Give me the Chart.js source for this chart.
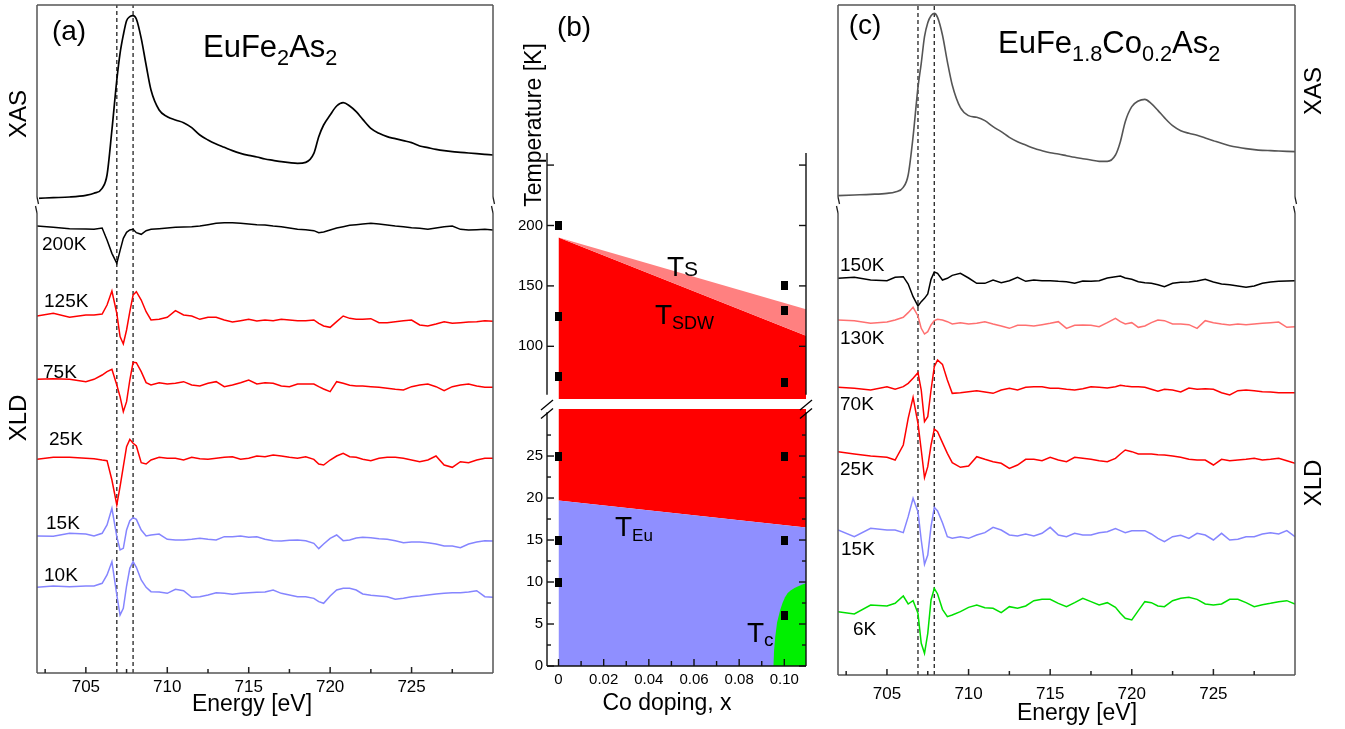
<!DOCTYPE html>
<html><head><meta charset="utf-8">
<script src="https://cdn.jsdelivr.net/npm/chart.js@4.4.1/dist/chart.umd.min.js"></script>
<style>
html,body{margin:0;padding:0;background:#fff;}
#wrap{position:relative;width:1345px;height:729px;overflow:hidden;font-family:"Liberation Sans",Arial,sans-serif;color:#000;}
canvas{position:absolute;left:0;top:0;}
.t{position:absolute;line-height:1;white-space:nowrap;transform:translate(-50%,-50%);}
.l{position:absolute;line-height:1;white-space:nowrap;transform:translateY(-50%);}
.r{position:absolute;line-height:1;white-space:nowrap;transform:translate(-50%,-50%) rotate(-90deg);}
.s{position:relative;top:0.35em;font-size:0.7em;}
.sb{position:relative;}
</style></head>
<body><div id="wrap">
<canvas id="ca" width="1345" height="729"></canvas>
<canvas id="cbu" width="1345" height="729"></canvas>
<canvas id="cbl" width="1345" height="729"></canvas>
<canvas id="cc" width="1345" height="729"></canvas>

<div class="t" style="left:69px;top:31px;font-size:28px">(a)</div>
<div class="l" style="left:203px;top:46px;font-size:31px">EuFe<span class="s">2</span>As<span class="s">2</span></div>
<div class="r" style="left:18px;top:114px;font-size:24px">XAS</div>
<div class="r" style="left:18px;top:418px;font-size:24px">XLD</div>
<div class="l" style="left:42px;top:243px;font-size:19px">200K</div>
<div class="l" style="left:44px;top:300px;font-size:19px">125K</div>
<div class="l" style="left:43px;top:371px;font-size:19px">75K</div>
<div class="l" style="left:49px;top:438px;font-size:19px">25K</div>
<div class="l" style="left:46px;top:522px;font-size:19px">15K</div>
<div class="l" style="left:44px;top:574px;font-size:19px">10K</div>
<div class="t" style="left:252px;top:703px;font-size:23px">Energy [eV]</div>

<div class="t" style="left:574px;top:27px;font-size:28px">(b)</div>
<div class="r" style="left:533px;top:125px;font-size:23px">Temperature [K]</div>
<div class="l" style="left:667px;top:267px;font-size:28px">T<span class="sb" style="font-size:21px;top:0px">S</span></div>
<div class="l" style="left:655px;top:315px;font-size:28px">T<span class="sb" style="font-size:18px;top:5px">SDW</span></div>
<div class="l" style="left:615px;top:527px;font-size:28px">T<span class="sb" style="font-size:17px;top:5px">Eu</span></div>
<div class="l" style="left:747px;top:633px;font-size:28px">T<span class="sb" style="font-size:19px;top:4px">c</span></div>
<div class="t" style="left:667px;top:702px;font-size:23px">Co doping, x</div>

<div class="t" style="left:865px;top:25px;font-size:28px">(c)</div>
<div class="l" style="left:998px;top:42px;font-size:31px">EuFe<span class="s">1.8</span>Co<span class="s">0.2</span>As<span class="s">2</span></div>
<div class="r" style="left:1313px;top:91px;font-size:24px">XAS</div>
<div class="r" style="left:1313px;top:483px;font-size:24px">XLD</div>
<div class="l" style="left:840px;top:264px;font-size:19px">150K</div>
<div class="l" style="left:840px;top:337px;font-size:19px">130K</div>
<div class="l" style="left:840px;top:403px;font-size:19px">70K</div>
<div class="l" style="left:840px;top:468px;font-size:19px">25K</div>
<div class="l" style="left:841px;top:548px;font-size:19px">15K</div>
<div class="l" style="left:853px;top:628px;font-size:19px">6K</div>
<div class="t" style="left:1077px;top:712px;font-size:23px">Energy [eV]</div>
</div>
<script>
// ---------- DATA ----------
const energyGrid = [702,703,704,705,705.5,706,706.3,706.6,706.9,707.1,707.3,707.5,707.7,707.9,708.1,708.4,708.7,709,709.5,710,710.5,711,711.5,712,712.5,713,713.5,714,714.5,715,715.5,716,716.5,717,717.5,718,718.5,719,719.3,719.6,720,720.4,720.8,721.2,721.6,722,722.5,723,723.5,724,724.5,725,725.5,726,726.5,727,727.5,728,728.5,729,729.5,730];
const energyTicks = [705,710,715,720,725];
const energyMinorTicks = [702.5,707.5,712.5,717.5,722.5,727.5];
const dashEnergies = [706.9, 707.9];

// panel (a) EuFe2As2 (arbitrary units, curves stacked)
const xasA = [1424,1426,1428,1433,1439,1454,1494,1629,1779,1859,1914,1957,1969,1972,1962,1904,1824,1749,1689,1669,1659,1651,1636,1614,1599,1587,1577,1567,1559,1553,1548,1542,1538,1534,1531,1529,1532,1559,1609,1644,1674,1701,1711,1701,1684,1661,1634,1619,1609,1603,1597,1591,1581,1576,1571,1567,1564,1562,1560,1558,1556,1554];
const xld200A = [1341,1337,1333,1332,1331,1335,1299,1259,1229,1267,1304,1322,1329,1331,1321,1316,1327,1331,1333,1335,1337,1338,1339,1341,1345,1349,1351,1351,1349,1347,1345,1344,1341,1339,1335,1331,1330,1327,1321,1323,1329,1335,1339,1343,1345,1347,1349,1347,1344,1341,1339,1336,1334,1331,1335,1339,1341,1331,1329,1330,1331,1329];
const xld125A = [1071,1079,1067,1074,1074,1077,1104,1146,1079,1009,987,1029,1084,1134,1144,1119,1084,1059,1061,1067,1087,1074,1071,1061,1067,1067,1059,1053,1057,1061,1056,1059,1057,1061,1059,1057,1057,1059,1049,1041,1037,1054,1071,1064,1061,1061,1063,1051,1051,1054,1057,1059,1044,1041,1047,1054,1049,1051,1053,1054,1057,1055];
const xld75A = [881,883,881,874,881,894,904,911,864,829,784,814,879,932,931,904,871,864,871,867,869,874,864,861,869,874,859,864,871,879,867,871,869,861,859,867,867,867,859,852,844,874,869,863,861,861,859,857,854,851,849,859,864,867,859,847,859,864,867,861,857,857];
const xld25A = [641,647,647,644,643,639,637,579,504,559,619,679,701,689,681,631,627,639,647,644,644,639,647,643,641,644,647,649,641,644,651,649,654,651,647,644,649,641,627,624,639,651,659,649,647,641,637,644,647,647,644,639,634,639,651,624,617,634,631,639,644,644];
const xld15A = [411,410,419,417,411,419,444,494,409,369,374,429,457,466,461,429,411,414,417,401,399,399,401,404,401,399,409,409,411,407,409,401,397,396,398,399,397,389,373,387,404,414,397,399,405,407,406,403,401,397,391,393,393,391,387,381,381,376,387,393,397,396];
const xld10A = [257,261,259,261,261,269,294,334,234,174,194,261,314,334,317,279,257,244,243,239,251,247,227,229,234,241,239,236,239,241,242,243,249,239,234,229,229,224,214,209,231,249,254,254,249,237,233,231,229,221,224,229,231,234,237,239,241,241,243,247,229,227];

// panel (c) EuFe1.8Co0.2As2
const xasC = [1438,1440,1442,1445,1449,1463,1500,1615,1763,1835,1915,1957,1978,1985,1973,1920,1840,1770,1702,1678,1673,1663,1645,1630,1613,1600,1590,1580,1573,1567,1563,1558,1553,1549,1545,1541,1541,1560,1600,1660,1705,1722,1727,1714,1694,1672,1648,1633,1625,1619,1611,1603,1595,1588,1583,1579,1576,1574,1573,1572,1571,1570];
const xld150C = [1190,1193,1185,1183,1193,1195,1173,1135,1107,1120,1130,1143,1187,1209,1205,1185,1190,1199,1205,1191,1175,1175,1185,1177,1183,1193,1181,1185,1183,1183,1181,1180,1175,1182,1181,1183,1191,1195,1197,1191,1187,1180,1177,1175,1171,1165,1175,1178,1179,1182,1187,1179,1173,1171,1167,1163,1167,1175,1179,1181,1182,1183];
const xld130C = [1065,1063,1055,1059,1065,1073,1087,1103,1077,1040,1023,1030,1050,1063,1067,1065,1060,1053,1057,1053,1055,1060,1053,1047,1040,1049,1049,1047,1051,1055,1060,1040,1049,1050,1049,1045,1057,1070,1060,1053,1057,1043,1047,1057,1065,1063,1053,1053,1051,1040,1063,1057,1053,1050,1053,1051,1053,1055,1057,1059,1043,1045];
const xld70C = [863,860,855,865,857,865,875,890,907,855,760,775,855,925,945,932,885,845,847,850,853,849,845,855,860,855,863,865,865,860,860,857,855,859,865,863,861,865,869,867,865,865,863,857,851,857,855,849,861,857,859,857,847,840,853,855,853,850,849,847,847,847];
const xld25C = [670,663,657,653,645,690,770,833,755,675,592,625,690,738,730,697,665,637,623,627,655,647,640,635,620,630,647,647,643,653,645,640,653,650,647,643,640,650,663,675,670,663,663,663,661,660,657,653,647,645,645,630,647,643,645,647,650,645,647,650,643,635];
const xld15C = [435,415,440,435,435,427,475,530,490,405,332,360,445,503,492,457,415,410,415,410,420,427,443,435,420,417,423,417,425,443,420,415,425,420,420,427,430,439,433,427,433,433,433,423,410,400,415,419,410,425,420,405,425,405,407,415,415,423,427,423,433,415];
const xld6C = [190,183,210,207,215,237,213,223,185,95,65,125,225,260,243,197,175,180,190,203,210,202,200,187,205,200,207,223,227,227,215,205,217,230,220,210,217,203,185,170,165,193,220,217,207,205,223,230,233,227,213,210,213,227,227,217,205,211,215,220,223,213];

// panel (b) phase diagram
const dopingEnds = [0, 0.1096];
const tSDW = [190, 108.8];
const tS = [190, 130.6];
const tEu = [19.7, 16.5];
const tcDoping = [0.0951,0.0955,0.0960,0.0968,0.0981,0.0992,0.1003,0.1015,0.1028,0.1045,0.1062,0.1080,0.1096];
const tcTemp = [0,2,3.5,5.2,6.6,7.5,8.2,8.7,9.0,9.3,9.5,9.7,9.85];
const measDoping = [0,0,0,0,0,0,0.1,0.1,0.1,0.1,0.1,0.1];
const measTemp = [200,125,75,25,15,10,150,130,70,25,15,6];
const upperTempTicks = [100,150,200,250];
const lowerTempTicks = [0,5,10,15,20,25];
const lowerTempMinor = [2.5,7.5,12.5,17.5,22.5,27.5];
const dopingTicks = [0,0.02,0.04,0.06,0.08,0.10];
const dopingMinor = [0.01,0.03,0.05,0.07,0.09];

// ---------- HELPERS ----------
Chart.defaults.font.family = "'Liberation Sans', Arial, sans-serif";
Chart.defaults.color = '#000';

function series(xs, ys){ return xs.map((x,i)=>({x:x, y:ys[i]})); }
function curve(ys, color, w){ return {data: series(energyGrid, ys), borderColor: color, borderWidth: w, pointRadius: 0, showLine: true, fill: false, tension: 0}; }
function dashes(yMax){ return dashEnergies.map(e => ({data:[{x:e,y:0},{x:e,y:yMax}], borderColor:'#333', borderWidth:1.4, borderDash:[4,3], pointRadius:0, showLine:true, fill:false})); }

const framePlugin = {
  id: 'frame',
  afterDraw(chart, args, o) {
    const ctx = chart.ctx, a = chart.chartArea, ys = chart.scales.y;
    ctx.save();
    ctx.strokeStyle = o.color; ctx.lineWidth = o.width; ctx.lineCap = 'butt';
    const vt = o.vRange ? ys.getPixelForValue(o.vRange[1]) : a.top;
    const vb = o.vRange ? ys.getPixelForValue(o.vRange[0]) : a.bottom;
    ctx.beginPath();
    (o.sides||[]).forEach(s => {
      if (s==='left'){ ctx.moveTo(a.left, vt); ctx.lineTo(a.left, vb); }
      if (s==='right'){ ctx.moveTo(a.right, vt); ctx.lineTo(a.right, vb); }
      if (s==='top'){ ctx.moveTo(a.left, a.top); ctx.lineTo(a.right, a.top); }
      if (s==='bottom'){ ctx.moveTo(a.left, a.bottom); ctx.lineTo(a.right, a.bottom); }
    });
    ctx.stroke();
    ctx.strokeStyle = o.tickColor || o.color;
    (o.ticks||[]).forEach(t => {
      const sc = chart.scales[t.axis];
      t.values.forEach(v => {
        const p = sc.getPixelForValue(v);
        t.sides.forEach(side => {
          ctx.beginPath();
          if (side==='bottom'){ ctx.moveTo(p, a.bottom); ctx.lineTo(p, a.bottom - t.len); }
          if (side==='left'){ ctx.moveTo(a.left, p); ctx.lineTo(a.left + t.len, p); }
          if (side==='right'){ ctx.moveTo(a.right, p); ctx.lineTo(a.right - t.len, p); }
          ctx.stroke();
        });
      });
    });
    if (o.breakAt !== undefined) {
      const y = ys.getPixelForValue(o.breakAt);
      [a.left, a.right].forEach(x => {
        ctx.fillStyle = '#fff';
        ctx.fillRect(x-2, y-8, 4, 16);
        ctx.strokeStyle = '#222'; ctx.lineWidth = 1.3;
        ctx.beginPath();
        ctx.moveTo(x, y-8); ctx.lineTo(x+1.5, y-1);
        ctx.moveTo(x-1.5, y+1); ctx.lineTo(x, y+8);
        ctx.stroke();
      });
    }
    if (o.slashes) {
      const seam = a.top;
      ctx.strokeStyle = '#000'; ctx.lineWidth = 1.3;
      [a.left, a.right].forEach(x => {
        [-4, 4.5].forEach(dy => {
          ctx.beginPath();
          ctx.moveTo(x-6, seam+dy+5); ctx.lineTo(x+6, seam+dy-5);
          ctx.stroke();
        });
      });
    }
    ctx.restore();
  }
};

const commonOpts = { responsive:false, animation:false, events:[] };
const noLegend = { legend:{display:false}, tooltip:{enabled:false} };

function energyX(pad, h){
  return { type:'linear', min:702, max:730,
    grid:{display:false, drawTicks:false}, border:{display:false},
    afterBuildTicks: s => { s.ticks = energyTicks.map(v=>({value:v})); },
    ticks:{ padding: pad, font:{size:17}, color:'#000', maxRotation:0, autoSkip:false, callback: v => String(v) },
    afterFit: s => { s.height = h; } };
}

// ---------- PANEL (a) ----------
const yMaxA = 2004;
new Chart(document.getElementById('ca'), {
  type:'scatter',
  data:{ datasets: [
    Object.assign(curve(xasA, '#000', 1.7), {cubicInterpolationMode:'monotone'}),
    curve(xld200A, '#000', 1.5),
    curve(xld125A, '#ff0000', 1.5),
    curve(xld75A, '#ff0000', 1.5),
    curve(xld25A, '#ff0000', 1.5),
    curve(xld15A, '#8585ff', 1.5),
    curve(xld10A, '#8585ff', 1.5)
  ].concat(dashes(yMaxA)) },
  options: Object.assign({}, commonOpts, {
    layout:{ padding:{left:37, right:852, top:5, bottom:0} },
    plugins: Object.assign({}, noLegend, { frame:{ color:'#555', width:1.5, tickColor:'#222', sides:['left','right','top','bottom'],
      ticks:[{axis:'x', values:energyTicks, len:6, sides:['bottom']},{axis:'x', values:energyMinorTicks, len:4, sides:['bottom']}],
      breakAt: 1404 } }),
    scales:{ x: energyX(4, 56), y:{ type:'linear', display:false, min:0, max:yMaxA } }
  }),
  plugins:[framePlugin]
});

// ---------- PANEL (c) ----------
const yMaxC = 2010;
new Chart(document.getElementById('cc'), {
  type:'scatter',
  data:{ datasets: [
    Object.assign(curve(xasC, '#555', 1.6), {cubicInterpolationMode:'monotone'}),
    curve(xld150C, '#000', 1.5),
    curve(xld130C, '#ff7070', 1.5),
    curve(xld70C, '#ff0000', 1.5),
    curve(xld25C, '#ff0000', 1.5),
    curve(xld15C, '#8585ff', 1.5),
    curve(xld6C, '#00e000', 1.5)
  ].concat(dashes(yMaxC)) },
  options: Object.assign({}, commonOpts, {
    layout:{ padding:{left:838, right:50, top:5, bottom:0} },
    plugins: Object.assign({}, noLegend, { frame:{ color:'#555', width:1.5, tickColor:'#222', sides:['left','right','top','bottom'],
      ticks:[{axis:'x', values:energyTicks, len:6, sides:['bottom']},{axis:'x', values:energyMinorTicks, len:4, sides:['bottom']}],
      breakAt: 1410 } }),
    scales:{ x: energyX(9, 54), y:{ type:'linear', display:false, min:0, max:yMaxC } }
  }),
  plugins:[framePlugin]
});

// ---------- PANEL (b) ----------
const sq = document.createElement('canvas'); sq.width = 7; sq.height = 9;
const sqc = sq.getContext('2d'); sqc.fillStyle = '#000'; sqc.fillRect(0,0,7,9);
const measPts = series(measDoping, measTemp);
function squares(filterFn){ return { data: measPts.filter(filterFn), pointStyle: sq, pointRadius: 5, showLine:false, clip:false }; }
function region(xs, ys, fill, color){ return { data: series(xs, ys), showLine:true, borderWidth:0, borderColor:color, backgroundColor:color, pointRadius:0, fill: fill }; }
const dopingX = (show, pad, h) => ({ type:'linear', display: show, min:-0.0051, max:0.1096,
  grid:{display:false, drawTicks:false}, border:{display:false},
  afterBuildTicks: s => { s.ticks = dopingTicks.map(v=>({value:v})); },
  ticks:{ padding: pad, font:{size:15}, color:'#000', maxRotation:0, autoSkip:false, callback: v => v === 0 ? '0' : v.toFixed(2) },
  afterFit: s => { s.height = h; } });

new Chart(document.getElementById('cbu'), {
  type:'scatter',
  data:{ datasets: [
    squares(p => p.y >= 60),
    region(dopingEnds, tS, 2, '#ff8080'),
    region(dopingEnds, tSDW, 'start', '#ff0000')
  ] },
  options: Object.assign({}, commonOpts, {
    layout:{ padding:{left:500, right:539, top:153, bottom:320} },
    plugins: Object.assign({}, noLegend, { frame:{ color:'#111', width:1.4, sides:['left','right'], vRange:[60,260],
      ticks:[{axis:'y', values:upperTempTicks, len:7, sides:['left','right']}] } }),
    scales:{
      x: dopingX(false, 5, 10),
      y:{ type:'linear', min:56.4, max:260, grid:{display:false, drawTicks:false}, border:{display:false},
        afterBuildTicks: s => { s.ticks = upperTempTicks.map(v=>({value:v})); },
        ticks:{ padding:4, font:{size:15}, color:'#000', callback: v => v === 250 ? '' : String(v) },
        afterFit: s => { s.width = 47; } }
    }
  }),
  plugins:[framePlugin]
});

new Chart(document.getElementById('cbl'), {
  type:'scatter',
  data:{ datasets: [
    squares(p => p.y < 60),
    region(tcDoping, tcTemp, 'start', '#00f000'),
    region(dopingEnds, tEu, 'start', '#8f8fff'),
    region(dopingEnds, tEu, 'end', '#ff0000')
  ] },
  options: Object.assign({}, commonOpts, {
    layout:{ padding:{left:500, right:539, top:409, bottom:0} },
    plugins: Object.assign({}, noLegend, { frame:{ color:'#111', width:1.4, sides:['left','right','bottom'], vRange:[0,30.2], slashes:true,
      ticks:[{axis:'y', values:lowerTempTicks, len:7, sides:['left','right']},
             {axis:'y', values:lowerTempMinor, len:4, sides:['left','right']},
             {axis:'x', values:dopingTicks, len:7, sides:['bottom']},
             {axis:'x', values:dopingMinor, len:5, sides:['bottom']}] } }),
    scales:{
      x: dopingX(true, 5, 63),
      y:{ type:'linear', min:0, max:30.6, grid:{display:false, drawTicks:false}, border:{display:false},
        afterBuildTicks: s => { s.ticks = lowerTempTicks.map(v=>({value:v})); },
        ticks:{ padding:4, font:{size:15}, color:'#000', callback: v => String(v) },
        afterFit: s => { s.width = 47; } }
    }
  }),
  plugins:[framePlugin]
});
</script>
</body></html>
